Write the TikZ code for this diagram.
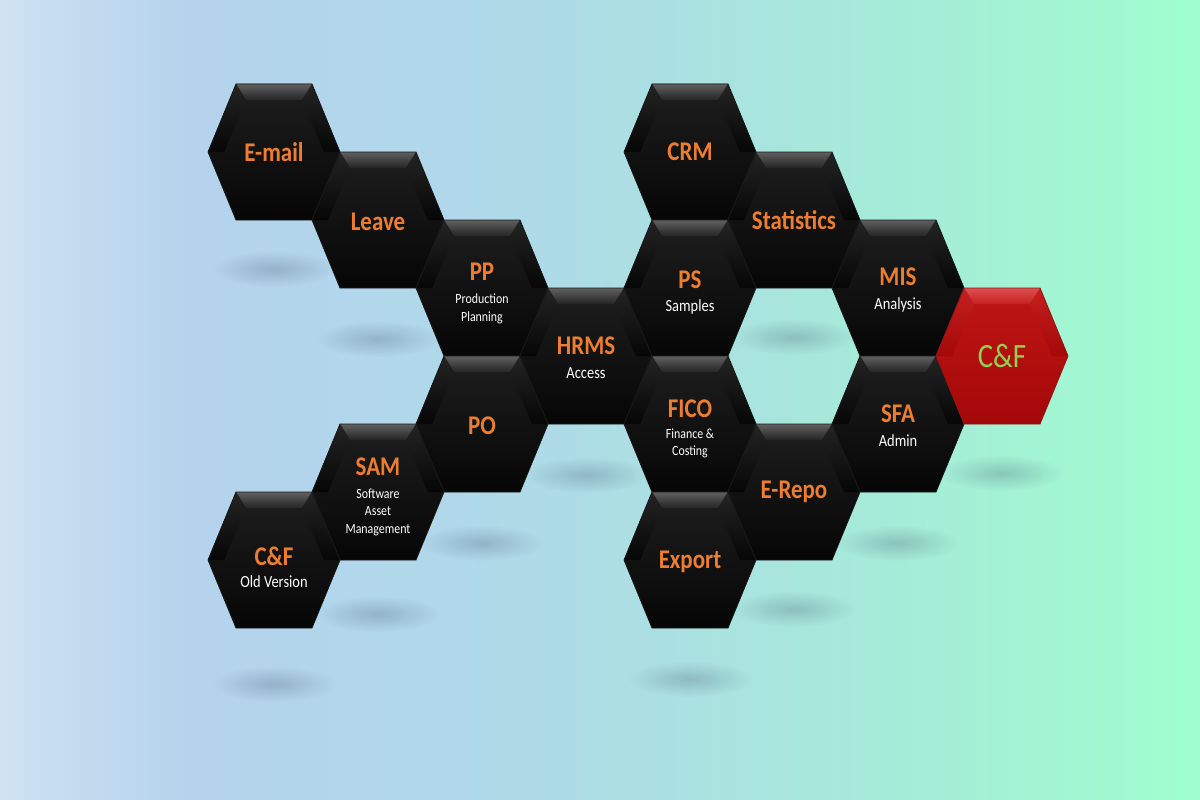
\documentclass[tikz,border=0pt]{standalone}
\usepackage{fontspec}
\newfontfamily\hexfont[FakeStretch=0.85]{Carlito}
\usepackage{xcolor}
\usepackage{tikz}
\usetikzlibrary{positioning, calc, fadings}
\definecolor{hxOrange}{RGB}{237,125,49}
\definecolor{hxGreen}{RGB}{146,208,80}
\definecolor{hxFaceTop}{RGB}{30,30,30}
\definecolor{hxFaceBot}{RGB}{6,6,6}
\definecolor{hxBevTop}{RGB}{96,96,96}
\definecolor{hxBevBot}{RGB}{36,36,36}
\definecolor{hxRedFaceTop}{RGB}{192,22,22}
\definecolor{hxRedFaceBot}{RGB}{164,8,8}
\definecolor{hxRedBevTop}{RGB}{222,80,80}
\definecolor{hxRedBevBot}{RGB}{198,32,32}
\definecolor{hxShadow}{RGB}{60,80,105}
\definecolor{bgA}{RGB}{207,227,243}
\definecolor{bgB}{RGB}{198,221,240}
\definecolor{bgC}{RGB}{181,211,237}
\definecolor{bgD}{RGB}{176,216,234}
\definecolor{bgE}{RGB}{172,222,228}
\definecolor{bgF}{RGB}{165,236,216}
\definecolor{bgG}{RGB}{160,254,206}
\pgfdeclarehorizontalshading{backdrop}{100bp}{color(0bp)=(bgA); color(25bp)=(bgA);
  color(27.5bp)=(bgB); color(33bp)=(bgC); color(44bp)=(bgD); color(51bp)=(bgE);
  color(62.5bp)=(bgF); color(75bp)=(bgG); color(100bp)=(bgG)}
\tikzfading[name=shadowfade, inner color=transparent!0, outer color=transparent!100]
\pgfdeclarelayer{back}
\pgfdeclarelayer{cells}
\pgfsetlayers{back,cells,main}
\newcommand{\hxtitle}[1]{{\fontsize{27}{29}\selectfont\bfseries\color{hxOrange}#1}}

\begin{document}
\begin{tikzpicture}[x=1pt, y=-1pt, font=\hexfont,
  hexbody/.pic={
    \shade[top color=#1FaceTop, bottom color=#1FaceBot]
      (-66,0) -- (-38,-68) -- (38,-68) -- (66,0) -- (38,68) -- (-38,68) -- cycle;
    \shade[top color=#1BevTop, bottom color=#1BevBot]
      (-38,-68) -- (38,-68) -- (28,-52) -- (-28,-52) -- cycle;
    \shade[top color=#1BevBot, bottom color=#1FaceBot]
      (-66,0) -- (-38,-68) -- (-28,-52) -- (-50,0) -- cycle;
    \shade[top color=#1BevBot, bottom color=#1FaceBot]
      (66,0) -- (38,-68) -- (28,-52) -- (50,0) -- cycle;
    \draw[line width=0.8pt, #1BevBot!70!black]
      (-66,0) -- (-38,-68) -- (38,-68) -- (66,0) -- (38,68) -- (-38,68) -- cycle;
  },
  cell/.style={inner sep=0pt, align=center, text=white},
  subbig/.style={font=\hexfont\fontsize{17}{21}\selectfont, yshift=-2pt},
  subsmall/.style={font=\hexfont\fontsize{14}{17.5}\selectfont, yshift=-5pt},
  shadowblob/.style={fill=hxShadow, fill opacity=0.26, path fading=shadowfade}]
\useasboundingbox (0,0) rectangle (1200,800);

% ===== LEFT WING =====
\node[cell] (email) at (274,152) {\hxtitle{E-mail}};
\node[cell,yshift=-2pt] (leave) at (378,220) {\hxtitle{Leave}};
\node[cell,subsmall] (pp) at (482,288) {\hxtitle{PP}\\[6pt]Production\\Planning};
\node[cell,yshift=-2pt] (po) at (482,424) {\hxtitle{PO}};
\node[cell,subsmall] (sam) at (378,492) {\hxtitle{SAM}\\[5pt]Software\\Asset\\Management};
\node[cell,subbig,yshift=-5pt] (cfold) at (274,560) {\hxtitle{C\&F}\\[1pt]Old Version};

% ===== HUB =====
\node[cell,subbig] (hrms) at (586,356) {\hxtitle{HRMS}\\[3pt]Access};

% ===== RIGHT WING =====
\node[cell] (crm) at (690,152) {\hxtitle{CRM}};
\node[cell,subbig,yshift=-3pt] (ps) at (690,288) {\hxtitle{PS}\\[2pt]Samples};
\node[cell,subsmall] (fico) at (690,424) {\hxtitle{FICO}\\[3pt]Finance \&\\Costing};
\node[cell,yshift=-2pt] (export) at (690,560) {\hxtitle{Export}};
\node[cell] (stats) at (794,220) {\hxtitle{Statistics}};
\node[cell] (erepo) at (794,492) {\hxtitle{E-Repo}};
\node[cell,subbig] (mis) at (898,288) {\hxtitle{MIS}\\[3pt]Analysis};
\node[cell,subbig] (sfa) at (898,424) {\hxtitle{SFA}\\[3pt]Admin};
\node[cell,font=\hexfont\fontsize{34}{36}\selectfont,text=hxGreen] (cfnew) at (1002,356) {C\&F};

% ===== hexagon bodies =====
\begin{pgfonlayer}{cells}
\pic at (274,152) {hexbody=hx};
\pic at (378,220) {hexbody=hx};
\pic at (482,288) {hexbody=hx};
\pic at (482,424) {hexbody=hx};
\pic at (378,492) {hexbody=hx};
\pic at (274,560) {hexbody=hx};
\pic at (586,356) {hexbody=hx};
\pic at (690,152) {hexbody=hx};
\pic at (690,288) {hexbody=hx};
\pic at (690,424) {hexbody=hx};
\pic at (690,560) {hexbody=hx};
\pic at (794,220) {hexbody=hx};
\pic at (794,492) {hexbody=hx};
\pic at (898,288) {hexbody=hx};
\pic at (898,424) {hexbody=hx};
\pic at (1002,356) {hexbody=hxRed};
\end{pgfonlayer}

% ===== backdrop + floor shadows =====
\begin{pgfonlayer}{back}
\shade[shading=backdrop] (0,0) rectangle (1200,800);
\fill[shadowblob] ($(email)+(0,117)$) ellipse [x radius=62, y radius=18];
\fill[shadowblob] ($(leave)+(0,117)$) ellipse [x radius=62, y radius=18];
\fill[shadowblob] ($(hrms)+(0,117)$) ellipse [x radius=62, y radius=18];
\fill[shadowblob] ($(po)+(0,117)$) ellipse [x radius=62, y radius=18];
\fill[shadowblob] ($(sam)+(0,117)$) ellipse [x radius=62, y radius=18];
\fill[shadowblob] ($(cfold)+(0,117)$) ellipse [x radius=62, y radius=18];
\fill[shadowblob] ($(stats)+(0,117)$) ellipse [x radius=62, y radius=18];
\fill[shadowblob] ($(export)+(0,117)$) ellipse [x radius=62, y radius=18];
\fill[shadowblob] ($(erepo)+(0,117)$) ellipse [x radius=62, y radius=18];
\fill[shadowblob] ($(sfa)+(0,117)$) ellipse [x radius=62, y radius=18];
\fill[shadowblob] ($(cfnew)+(0,117)$) ellipse [x radius=62, y radius=18];
\end{pgfonlayer}
\end{tikzpicture}
\end{document}
